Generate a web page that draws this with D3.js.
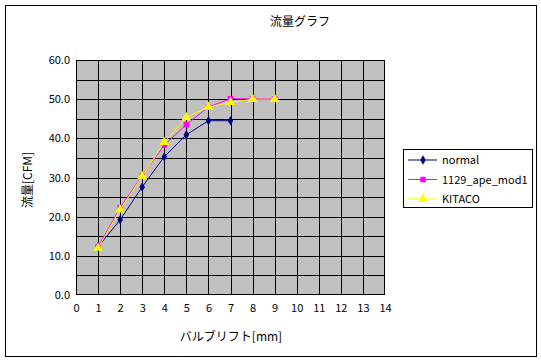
<!DOCTYPE html>
<html><head><meta charset="utf-8">
<script src="https://cdn.jsdelivr.net/npm/d3@7"></script>
<style>body{margin:0;background:#fff}svg{display:block}</style>
</head><body>
<script>
const liftX = [1,2,3,4,5,6,7,8,9];
const normal = [12.3,19.2,27.6,35.3,40.9,44.5,44.5];
const apeMod1 = [12.3,22.3,30.5,38.3,43.5,48.0,50.1,50.1,50.1];
const kitaco = [12.0,21.8,30.3,39.0,45.3,48.0,49.2,50.0,50.0];
const seriesNames = ["normal","1129_ape_mod1","KITACO"];
const yTicks = [0,10,20,30,40,50,60];
const xTicks = [0,1,2,3,4,5,6,7,8,9,10,11,12,13,14];
const title = "流量グラフ";
const xTitle = "バルブリフト[mm]";
const yTitle = "流量[CFM]";

const W=541,H=362;
const font = "'Noto Sans CJK JP', sans-serif";
const svg=d3.select("body").append("svg").attr("width",W).attr("height",H);
svg.append("rect").attr("x",5.5).attr("y",5.5).attr("width",531).attr("height",351)
  .attr("fill","#fff").attr("stroke","#000").attr("stroke-width",1);

const m={l:76,t:60,r:385,b:295};
const x=d3.scaleLinear().domain([0,14]).range([m.l,m.r]);
const y=d3.scaleLinear().domain([0,60]).range([m.b,m.t]);

svg.append("rect").attr("x",m.l).attr("y",m.t).attr("width",m.r-m.l).attr("height",m.b-m.t).attr("fill","#c0c0c0");
const g=svg.append("g");
g.selectAll(".vg").data(d3.range(1,14)).join("line")
  .attr("x1",d=>Math.round(x(d))+0.5).attr("x2",d=>Math.round(x(d))+0.5)
  .attr("y1",m.t).attr("y2",m.b).attr("stroke","#000");
g.selectAll(".hg").data(d3.range(5,60,5)).join("line")
  .attr("y1",d=>Math.round(y(d))+0.5).attr("y2",d=>Math.round(y(d))+0.5)
  .attr("x1",m.l).attr("x2",m.r).attr("stroke","#000");
svg.append("rect").attr("x",m.l+0.5).attr("y",m.t+0.5).attr("width",m.r-m.l-1).attr("height",m.b-m.t-1)
  .attr("fill","none").attr("stroke","#000");

const yAxis=d3.axisLeft(y).tickValues(yTicks).tickFormat(d3.format(".1f")).tickSize(0).tickPadding(6);
const ya=svg.append("g").attr("transform",`translate(${m.l},0)`).call(yAxis);
const xAxis=d3.axisBottom(x).tickValues(xTicks).tickFormat(d3.format("d")).tickSize(0).tickPadding(9);
const xa=svg.append("g").attr("transform",`translate(0,${m.b})`).call(xAxis);
[ya,xa].forEach(a=>{a.select(".domain").remove();a.selectAll("text").attr("font-family",font).attr("font-size",11).attr("fill","#000");});

svg.append("text").attr("x",300).attr("y",26).attr("text-anchor","middle").attr("font-family",font).attr("font-size",12).text(title);
svg.append("text").attr("x",231).attr("y",341).attr("text-anchor","middle").attr("font-family",font).attr("font-size",12).text(xTitle);
svg.append("text").attr("transform","translate(32,180) rotate(-90)").attr("text-anchor","middle").attr("font-family",font).attr("font-size",12).text(yTitle);

const series=[
 {name:seriesNames[0],vals:normal,color:"#000080",sym:d3.symbolDiamond,size:26},
 {name:seriesNames[1],vals:apeMod1,color:"#ff00ff",sym:d3.symbolSquare,size:30},
 {name:seriesNames[2],vals:kitaco,color:"#ffff00",sym:d3.symbolTriangle,size:40}
];
const line=d3.line().x(d=>x(d[0])).y(d=>y(d[1]));
series.forEach(s=>{
  const pts=s.vals.map((v,i)=>[liftX[i],v]);
  svg.append("path").attr("d",line(pts)).attr("fill","none").attr("stroke",s.color).attr("stroke-width",1);
  svg.selectAll(null).data(pts).join("path")
    .attr("d",d3.symbol().type(s.sym).size(s.size))
    .attr("transform",d=>`translate(${x(d[0])},${y(d[1])})`).attr("fill",s.color);
});

const lg=svg.append("g");
lg.append("rect").attr("x",403.5).attr("y",149.5).attr("width",129).attr("height",58).attr("fill","#fff").attr("stroke","#000");
series.forEach((s,i)=>{
  const yy=160+i*19.5;
  lg.append("line").attr("x1",408).attr("x2",437).attr("y1",yy).attr("y2",yy).attr("stroke",s.color);
  lg.append("path").attr("d",d3.symbol().type(s.sym).size(s.size)).attr("transform",`translate(423,${yy})`).attr("fill",s.color);
  lg.append("text").attr("x",442).attr("y",yy+4).attr("font-family",font).attr("font-size",11).text(s.name);
});
</script>
</body></html>
